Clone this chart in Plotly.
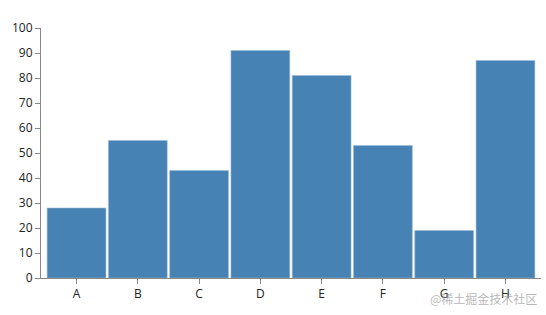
import plotly.graph_objects as go

categories = ["A", "B", "C", "D", "E", "F", "G", "H"]
values = [28, 55, 43, 91, 81, 53, 19, 87]
y_ticks = [0, 10, 20, 30, 40, 50, 60, 70, 80, 90, 100]

fig = go.Figure(go.Bar(
    x=categories, y=values,
    marker=dict(color="#4682b4", line=dict(color="#9dbbd6", width=0.6)),
))

axis_common = dict(
    showgrid=False, zeroline=False, showline=True, linecolor="#888888", linewidth=1,
    ticks="outside", ticklen=5, tickcolor="#888888", tickwidth=1,
    tickfont=dict(family="Open Sans, DejaVu Sans, sans-serif", size=12, color="#222222"),
)

fig.update_xaxes(range=[-0.58, 7.58], **axis_common)
fig.update_yaxes(range=[0, 100], tickvals=y_ticks, **axis_common)

fig.add_annotation(
    text="@稀土掘金技术社区", xref="paper", yref="paper", x=0.995, y=-0.04,
    xanchor="right", yanchor="top", showarrow=False,
    font=dict(family="Noto Sans CJK SC", size=12, color="rgba(150,150,150,0.7)"),
)

fig.update_layout(
    width=546, height=315, bargap=0.04,
    margin=dict(l=41, r=5, t=28, b=37),
    paper_bgcolor="white", plot_bgcolor="white",
    showlegend=False,
)

fig.write_html("out.html")
